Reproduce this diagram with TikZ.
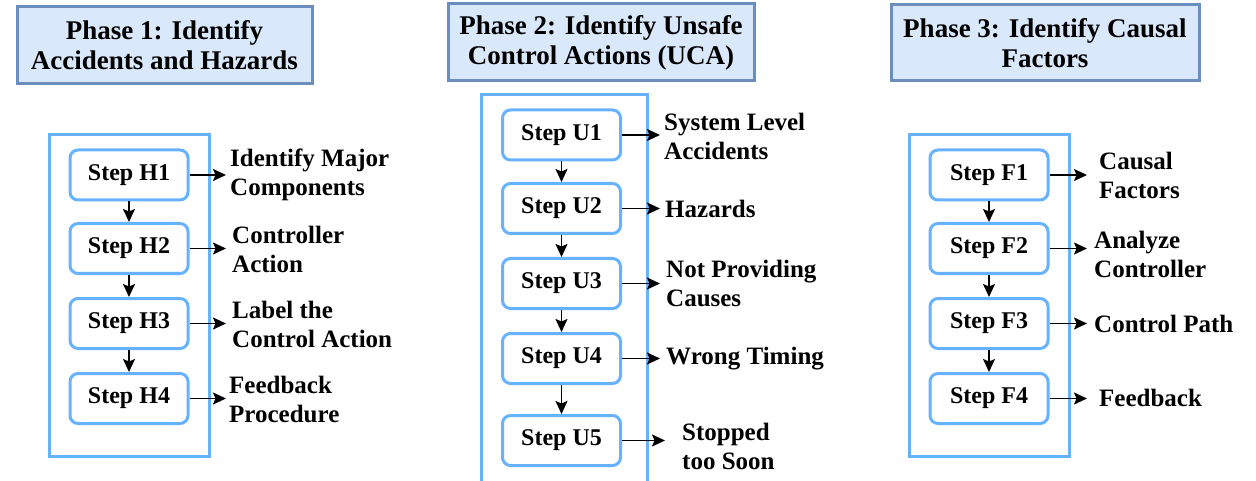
\documentclass[tikz,border=0pt]{standalone}
\usepackage{fontspec}
\setmainfont{Liberation Serif}
\usetikzlibrary{arrows.meta}
\definecolor{titlefill}{HTML}{DAE8FC}
\definecolor{titledraw}{HTML}{6C8EBF}
\definecolor{boxblue}{HTML}{66B2FF}
\tikzset{
  phasetitle/.style={draw=titledraw, fill=titlefill, line width=3pt},
  titletext/.style={inner sep=0pt, align=center, font=\fontsize{27}{30}\selectfont\bfseries},
  stepbox/.style={draw=boxblue, line width=3pt, rounded corners=8pt, minimum width=118pt,
    minimum height=50pt, inner sep=0pt, font=\fontsize{24}{28}\selectfont\bfseries},
  container/.style={draw=boxblue, line width=3pt},
  steplabel/.style={anchor=west, inner sep=0pt, align=left, font=\fontsize{25}{29}\selectfont\bfseries},
  flow/.style={line width=1.6pt, arrows={-Stealth[length=13pt,width=12pt,inset=2.5pt]}}
}
\begin{document}
\begin{tikzpicture}
\useasboundingbox (0,0) rectangle (1256pt,-481pt);
\begin{scope}[x=1pt,y=-1pt]
% titles
\draw[phasetitle] (17,7) rectangle (312,84);
\node[titletext] (t1) at (164.5,45.5) {Phase 1: Identify\\Accidents and Hazards};
\draw[phasetitle] (448,4) rectangle (754,81);
\node[titletext] (t2) at (601,42.5) {Phase 2: Identify Unsafe\\Control Actions (UCA)};
\draw[phasetitle] (891,5) rectangle (1199,81);
\node[titletext] (t3) at (1045,43) {Phase 3: Identify Causal\\Factors};
% containers
\draw[container] (49,135) rectangle (209,456);
\draw[container] (481,495) -- (481,95) -- (647,95) -- (647,495);
\draw[container] (909,135) rectangle (1069,456);
% Phase 1 steps
\node[stepbox] (h1) at (129,175) {Step H1};
\node[stepbox] (h2) at (129,248.5) {Step H2};
\node[stepbox] (h3) at (129,323.5) {Step H3};
\node[stepbox] (h4) at (129,398.5) {Step H4};
\coordinate (h1e) at (226,175);
\coordinate (h2e) at (226,248.5);
\coordinate (h3e) at (226,323.5);
\coordinate (h4e) at (226,398.5);
\node[steplabel] (lh1) at (230,175) {Identify Major\\Components};
\node[steplabel] (lh2) at (232,249) {Controller\\Action};
\node[steplabel] (lh3) at (232,324) {Label the\\Control Action};
\node[steplabel] (lh4) at (229,399) {Feedback\\Procedure};
% Phase 2 steps
\node[stepbox] (u1) at (561.5,135) {Step U1};
\node[stepbox] (u2) at (561.5,208.5) {Step U2};
\node[stepbox] (u3) at (561.5,283.5) {Step U3};
\node[stepbox] (u4) at (561.5,358.5) {Step U4};
\node[stepbox] (u5) at (561.5,440.5) {Step U5};
\coordinate (u1e) at (660,135);
\coordinate (u2e) at (660,208.5);
\coordinate (u3e) at (660,283.5);
\coordinate (u4e) at (660,358.5);
\coordinate (u5e) at (665,440.5);
\node[steplabel] (lu1) at (664,136) {System Level\\Accidents};
\node[steplabel] (lu2) at (665,208.5) {Hazards};
\node[steplabel] (lu3) at (666,283.5) {Not Providing\\Causes};
\node[steplabel] (lu4) at (666,358.5) {Wrong Timing};
\node[steplabel] (lu5) at (682,446) {Stopped\\too Soon};
% Phase 3 steps
\node[stepbox] (f1) at (989,175) {Step F1};
\node[stepbox] (f2) at (989,248.5) {Step F2};
\node[stepbox] (f3) at (989,323.5) {Step F3};
\node[stepbox] (f4) at (989,398.5) {Step F4};
\coordinate (f1e) at (1087,175);
\coordinate (f2e) at (1087,248.5);
\coordinate (f3e) at (1087,323.5);
\coordinate (f4e) at (1087,398.5);
\node[steplabel] (lf1) at (1099,175) {Causal\\Factors};
\node[steplabel] (lf2) at (1094,254) {Analyze\\Controller};
\node[steplabel] (lf3) at (1094,323.5) {Control Path};
\node[steplabel] (lf4) at (1099,398) {Feedback};
\end{scope}
% connectors
\draw[flow] (h1) -- (h2);
\draw[flow] (h2) -- (h3);
\draw[flow] (h3) -- (h4);
\draw[flow] (h1) -- (h1e);
\draw[flow] (h2) -- (h2e);
\draw[flow] (h3) -- (h3e);
\draw[flow] (h4) -- (h4e);
\draw[flow] (u1) -- (u2);
\draw[flow] (u2) -- (u3);
\draw[flow] (u3) -- (u4);
\draw[flow] (u4) -- (u5);
\draw[flow] (u1) -- (u1e);
\draw[flow] (u2) -- (u2e);
\draw[flow] (u3) -- (u3e);
\draw[flow] (u4) -- (u4e);
\draw[flow] (u5) -- (u5e);
\draw[flow] (f1) -- (f2);
\draw[flow] (f2) -- (f3);
\draw[flow] (f3) -- (f4);
\draw[flow] (f1) -- (f1e);
\draw[flow] (f2) -- (f2e);
\draw[flow] (f3) -- (f3e);
\draw[flow] (f4) -- (f4e);
\end{tikzpicture}
\end{document}
